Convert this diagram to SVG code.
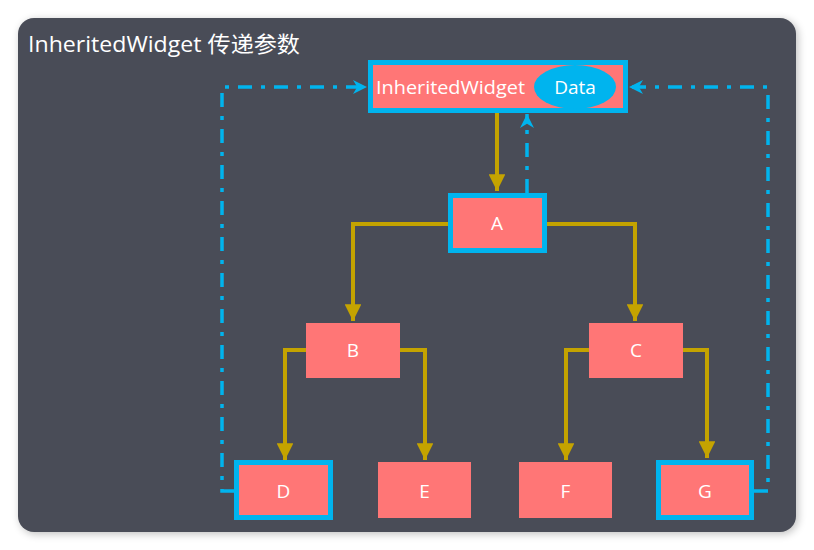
<svg xmlns="http://www.w3.org/2000/svg" width="814" height="550" viewBox="0 0 814 550">
<defs>
<style>
.txt{font-family:"Open Sans","Noto Sans","Noto Sans CJK SC",sans-serif;fill:#ffffff;}
.node{fill:#ff7676;}
.hl{fill:#ff7676;stroke:#00b4ee;stroke-width:5;}
.gold{fill:none;stroke:#c4a300;stroke-width:4;}
.blue{fill:none;stroke:#00b4ee;stroke-width:3.5;stroke-dasharray:14 9 4 9;}
</style>
<marker id="ga" viewBox="0 0 10 10" refX="10" refY="5" markerWidth="4.2" markerHeight="4.2" orient="auto" markerUnits="strokeWidth">
<path d="M0,0 L10,5 L0,10 Z" fill="#c4a300"/>
</marker>
<marker id="ba" viewBox="0 0 10 10" refX="10" refY="5" markerWidth="4" markerHeight="4" orient="auto" markerUnits="strokeWidth">
<path d="M0,0 L10,5 L0,10 L3,5 Z" fill="#00b4ee"/>
</marker>
<filter id="sh" x="-5%" y="-5%" width="110%" height="110%">
<feGaussianBlur stdDeviation="4"/>
</filter>
</defs>
<rect width="814" height="550" fill="#ffffff"/>
<rect x="20" y="20" width="778" height="514" rx="16" fill="#000" opacity="0.25" filter="url(#sh)"/>
<rect x="18" y="18" width="778" height="514" rx="16" fill="#494c57"/>
<text class="txt" x="28" y="52" font-size="22" textLength="272" lengthAdjust="spacingAndGlyphs">InheritedWidget 传递参数</text>

<g id="connectors">
<path class="gold" d="M497,113 V191" marker-end="url(#ga)"/>
<path class="gold" d="M448,224 H353 V321" marker-end="url(#ga)"/>
<path class="gold" d="M546,224 H635 V321" marker-end="url(#ga)"/>
<path class="gold" d="M306,350 H285 V460" marker-end="url(#ga)"/>
<path class="gold" d="M400,350 H425 V460" marker-end="url(#ga)"/>
<path class="gold" d="M589,350 H566 V460" marker-end="url(#ga)"/>
<path class="gold" d="M683,350 H707 V458" marker-end="url(#ga)"/>
<path class="blue" d="M527,193 V114" marker-end="url(#ba)"/>
<path class="blue" d="M234,491 H222 V87 H367" marker-end="url(#ba)"/>
<path class="blue" d="M754,491 H768 V87 H629" marker-end="url(#ba)"/>
</g>

<g id="inherited">
<rect class="hl" x="370.5" y="62.5" width="255" height="48"/>
<text class="txt" x="376" y="94" font-size="19" textLength="149" lengthAdjust="spacingAndGlyphs">InheritedWidget</text>
<ellipse cx="575" cy="87" rx="41" ry="22" fill="#00b4ee"/>
<text class="txt" x="575" y="94" font-size="19" text-anchor="middle">Data</text>
</g>
<g id="A">
<rect class="hl" x="450.5" y="195.5" width="94" height="55"/>
<text class="txt" x="497" y="230" font-size="19" text-anchor="middle">A</text>
</g>
<g id="B">
<rect class="node" x="306" y="323" width="94" height="55"/>
<text class="txt" x="353" y="357" font-size="19" text-anchor="middle">B</text>
</g>
<g id="C">
<rect class="node" x="589" y="323" width="94" height="55"/>
<text class="txt" x="636" y="357" font-size="19" text-anchor="middle">C</text>
</g>
<g id="D">
<rect class="hl" x="236.5" y="462.5" width="94" height="55"/>
<text class="txt" x="283.5" y="497.5" font-size="19" text-anchor="middle">D</text>
</g>
<g id="E">
<rect class="node" x="378" y="462" width="93" height="56"/>
<text class="txt" x="424.5" y="497.5" font-size="19" text-anchor="middle">E</text>
</g>
<g id="F">
<rect class="node" x="519" y="462" width="93" height="56"/>
<text class="txt" x="565.5" y="497.5" font-size="19" text-anchor="middle">F</text>
</g>
<g id="G">
<rect class="hl" x="658.5" y="462.5" width="93" height="55"/>
<text class="txt" x="705" y="497.5" font-size="19" text-anchor="middle">G</text>
</g>
</svg>
